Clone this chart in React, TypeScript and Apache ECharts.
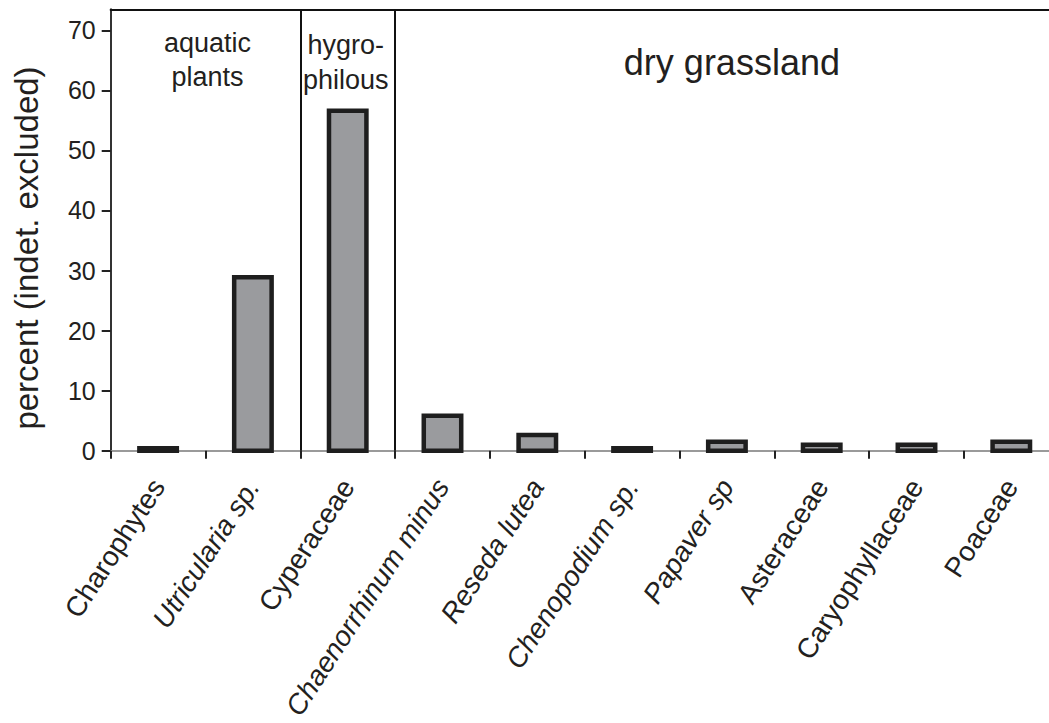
import React, { useEffect, useRef } from "react";
import * as echarts from "echarts";

const categories = [
  "Charophytes",
  "Utricularia sp.",
  "Cyperaceae",
  "Chaenorrhinum minus",
  "Reseda lutea",
  "Chenopodium sp.",
  "Papaver sp",
  "Asteraceae",
  "Caryophyllaceae",
  "Poaceae",
];
const percentValues = [0.4, 28.9, 56.6, 5.8, 2.6, 0.4, 1.5, 1.0, 1.0, 1.5];
const italicLabels = [false, true, false, true, true, true, true, false, false, false];
const yTickValues = [0, 10, 20, 30, 40, 50, 60, 70];
const groupNames = ["aquatic\nplants", "hygro-\nphilous", "dry grassland"];
const groupStarts = [0, 2, 3];
const groupEnds = [2, 3, 10];
const dividerPositions = [2, 3];

export default function App() {
  const ref = useRef<HTMLDivElement>(null);
  useEffect(() => {
    const chart = echarts.init(ref.current!, null, { renderer: "svg" });
    const font = "'Liberation Sans', Arial, Helvetica, sans-serif";
    const textColor = "#231f20";
    const groupLabelStyles = [
      { distance: 17, fontSize: 27, lineHeight: 34, offset: [2, 0] },
      { distance: 18, fontSize: 27, lineHeight: 35, offset: [-2, 0] },
      { distance: 35, fontSize: 36, lineHeight: 36, offset: [5, 0] },
    ];
    chart.setOption({
      animation: false,
      backgroundColor: "#ffffff",
      textStyle: { fontFamily: font },
      grid: {
        left: 110.7,
        right: -9.7,
        top: 9.3,
        bottom: 272.3,
        containLabel: false,
        outerBoundsMode: "none",
      },
      xAxis: [
        {
          type: "category",
          data: categories,
          boundaryGap: true,
          position: "bottom",
          axisLine: { show: true, onZero: false, lineStyle: { color: "#9a9a9a", width: 2 } },
          axisTick: {
            show: true,
            alignWithLabel: false,
            interval: 0,
            length: 8,
            lineStyle: { color: "#222", width: 2 },
          },
          axisLabel: {
            interval: 0,
            rotate: 57,
            margin: 31,
            fontSize: 28,
            color: textColor,
            fontFamily: font,
            formatter: (v: string, i: number) => (italicLabels[i] ? `{it|${v}}` : v),
            rich: {
              it: { fontStyle: "italic", fontSize: 28, color: textColor, fontFamily: font },
            },
          },
          splitLine: { show: false },
        },
        {
          type: "value",
          min: 0,
          max: 10,
          position: "top",
          axisLine: { show: true, onZero: false, lineStyle: { color: "#111", width: 2 } },
          axisTick: { show: false },
          axisLabel: { show: false },
          splitLine: { show: false },
        },
      ],
      yAxis: {
        type: "value",
        min: 0,
        max: 73.5,
        interval: 10,
        name: "percent (indet. excluded)",
        nameLocation: "middle",
        nameGap: 68,
        nameRotate: 90,
        nameTextStyle: {
          fontSize: 33,
          color: textColor,
          fontFamily: font,
          padding: [0, 36, 0, 0],
        },
        axisLine: { show: true, onZero: false, lineStyle: { color: "#333", width: 2 } },
        axisTick: {
          show: true,
          inside: false,
          length: 9,
          customValues: yTickValues,
          lineStyle: { color: "#222", width: 2 },
        },
        axisLabel: {
          margin: 15,
          fontSize: 25,
          color: textColor,
          fontFamily: font,
          customValues: yTickValues,
        },
        splitLine: { show: false },
      },
      series: [
        {
          type: "custom",
          xAxisIndex: 0,
          yAxisIndex: 0,
          silent: true,
          data: percentValues.map((v, i) => [i, v]),
          renderItem: (params: any, api: any) => {
            const idx = api.value(0);
            const val = api.value(1);
            const top = api.coord([idx, val]);
            const base = api.coord([idx, 0]);
            const bw = api.size([1, 0])[0] * 0.395;
            return {
              type: "rect",
              shape: { x: top[0] - bw / 2, y: top[1], width: bw, height: base[1] - top[1] },
              style: { fill: "#9a9b9e", stroke: "#1e1e1e", lineWidth: 4.5 },
            };
          },
        },
        {
          type: "line",
          xAxisIndex: 1,
          yAxisIndex: 0,
          data: [],
          silent: true,
          markLine: {
            silent: true,
            symbol: ["none", "none"],
            label: { show: false },
            lineStyle: { color: "#111", width: 2, type: "solid" },
            data: dividerPositions.map((x) => ({ xAxis: x })),
          },
          markArea: {
            silent: true,
            itemStyle: { color: "rgba(0,0,0,0)" },
            data: groupNames.map((name, i) => [
              {
                name,
                xAxis: groupStarts[i],
                label: {
                  show: true,
                  position: "insideTop",
                  color: textColor,
                  fontFamily: font,
                  align: "center",
                  ...groupLabelStyles[i],
                },
              },
              { xAxis: groupEnds[i] },
            ]),
          },
        },
      ],
    });
    return () => chart.dispose();
  }, []);
  return (
    <div
      ref={ref}
      style={{ position: "absolute", left: 0, top: 0, width: 1049, height: 723, background: "#fff" }}
    />
  );
}
